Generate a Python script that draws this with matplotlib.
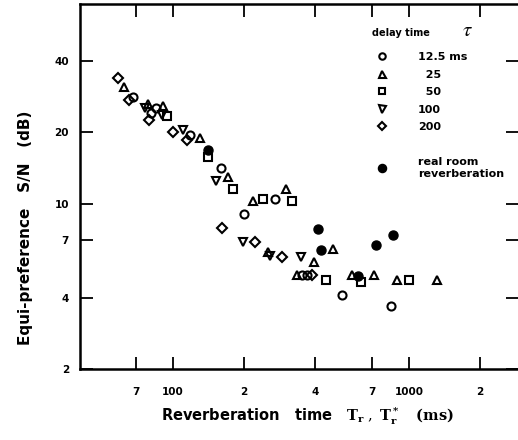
import matplotlib
matplotlib.use("Agg")
import matplotlib.pyplot as plt
from matplotlib.ticker import FixedLocator, FixedFormatter, NullLocator

plt.rcParams['font.family'] = 'DejaVu Sans'
plt.rcParams['mathtext.fontset'] = 'stix'

# delay time 12.5 ms (open circles)
circle_x = [67.7, 80.7, 84.7, 118, 160, 200, 270, 352, 370, 520, 839]
circle_y = [28.1, 24.1, 25.3, 19.4, 14.1, 9.0, 10.5, 5.0, 5.0, 4.1, 3.7]

# delay time 25 ms (triangles)
tri_up_x = [62, 78.4, 90.8, 130, 171, 218, 301, 253, 335, 396, 476, 573, 711, 889, 1314]
tri_up_y = [31.0, 26.3, 25.8, 19.0, 12.9, 10.3, 11.5, 6.26, 5.0, 5.68, 6.45, 5.0, 5.0, 4.76, 4.76]

# delay time 50 ms (squares)
square_x = [94.3, 140.7, 180, 241, 319, 445, 626, 1000]
square_y = [23.4, 15.7, 11.5, 10.5, 10.3, 4.76, 4.67, 4.76]

# delay time 100 ms (inverted triangles)
tri_down_x = [76.1, 89.8, 110.3, 152, 198, 258, 349]
tri_down_y = [25.3, 23.6, 20.4, 12.4, 6.9, 6.0, 5.96]

# delay time 200 ms (diamonds)
diamond_x = [58.5, 65.1, 79.1, 100, 115, 161, 222, 290, 388]
diamond_y = [33.9, 27.3, 22.5, 20.0, 18.5, 7.9, 6.9, 5.96, 5.0]

# real room reverberation (filled circles)
real_x = [141, 411, 424, 608, 725, 855]
real_y = [16.9, 7.84, 6.38, 4.95, 6.70, 7.39]

x_ticks = [70, 100, 200, 400, 700, 1000, 2000]
x_tick_labels = ["7", "100", "2", "4", "7", "1000", "2"]
y_ticks = [2, 4, 7, 10, 20, 40]
y_tick_labels = ["2", "4", "7", "10", "20", "40"]

legend_labels = ["12.5 ms", "  25", "  50", "100", "200"]

fig = plt.figure(figsize=(5.18, 4.40), dpi=100)
ax = fig.add_axes([80 / 518, 71 / 440, 438 / 518, 365 / 440])

open_style = dict(linestyle='none', markerfacecolor='none', markeredgecolor='black',
                  markeredgewidth=1.5)
series = [
    (circle_x, circle_y, 'o', 5.8),
    (tri_up_x, tri_up_y, '^', 6.3),
    (square_x, square_y, 's', 5.8),
    (tri_down_x, tri_down_y, 'v', 6.3),
    (diamond_x, diamond_y, 'D', 5.5),
]
handles = []
for xs, ys, mk, ms in series:
    h, = ax.plot(xs, ys, marker=mk, markersize=ms, **open_style)
    handles.append(h)

real_h, = ax.plot(real_x, real_y, linestyle='none', marker='o', markersize=6.5,
                  color='black')

ax.set_xscale('log')
ax.set_yscale('log')
ax.set_xlim(40.4, 2897)
ax.set_ylim(2, 69.7)

ax.xaxis.set_major_locator(FixedLocator(x_ticks))
ax.xaxis.set_major_formatter(FixedFormatter(x_tick_labels))
ax.xaxis.set_minor_locator(NullLocator())
ax.yaxis.set_major_locator(FixedLocator(y_ticks))
ax.yaxis.set_major_formatter(FixedFormatter(y_tick_labels))
ax.yaxis.set_minor_locator(NullLocator())

ax.tick_params(which='major', direction='in', length=9, width=1.3,
               top=True, right=True, labelsize=7.5)
ax.tick_params(axis='x', pad=13)
ax.tick_params(axis='y', pad=8)
for lab in ax.get_xticklabels() + ax.get_yticklabels():
    lab.set_fontweight('bold')

for side in ['left', 'bottom', 'top']:
    ax.spines[side].set_linewidth(1.8)
ax.spines['right'].set_visible(False)

ax.set_xlabel(r"Reverberation   time   $\mathbf{T_r}\ ,\ \mathbf{T_r^*}$   $\mathbf{(ms)}$",
              fontsize=10.5, fontweight='bold', math_fontfamily='dejavuserif')
ax.xaxis.set_label_coords(0.52, -0.101)
ax.set_ylabel("Equi-preference   S/N   (dB)", fontsize=11, fontweight='bold')
ax.yaxis.set_label_coords(-0.107, 0.386)

# legend
ax.text(0.667, 0.921, "delay time", transform=ax.transAxes, va='center', ha='left',
        fontsize=7, fontweight='bold')
ax.text(0.872, 0.929, r"$\tau$", transform=ax.transAxes, va='center', ha='left',
        fontsize=15)

leg1 = ax.legend(handles, legend_labels, loc='upper left', bbox_to_anchor=(0.667, 0.868),
                 frameon=False, borderpad=0, borderaxespad=0, handlelength=1.7,
                 handletextpad=2.4, labelspacing=0.67, markerscale=0.8,
                 prop={'size': 8, 'weight': 'bold'})
ax.add_artist(leg1)
ax.legend([real_h], ["real room\nreverberation"], loc='upper left',
          bbox_to_anchor=(0.667, 0.581), frameon=False, borderpad=0, borderaxespad=0,
          handlelength=1.7, handletextpad=2.4, markerscale=0.9,
          prop={'size': 8, 'weight': 'bold'})

fig.savefig("out.png", dpi=100)
